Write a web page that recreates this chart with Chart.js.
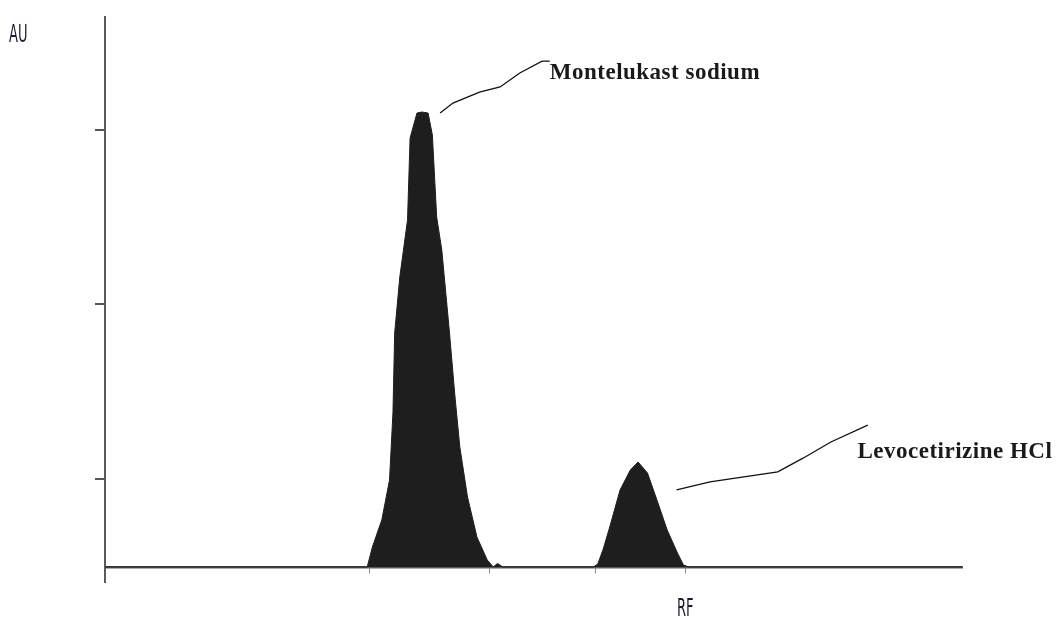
<!DOCTYPE html>
<html>
<head>
<meta charset="utf-8">
<script src="https://cdn.jsdelivr.net/npm/chart.js@4.4.1/dist/chart.umd.min.js"></script>
<style>
  html, body { margin: 0; padding: 0; background: #fff; }
  #wrap { width: 1061px; height: 625px; }
</style>
</head>
<body>
<div id="wrap"><canvas id="myChart"></canvas></div>
<script>
// densitometric scan, RF vs AU
const rfValues = [0, 0.306, 0.312, 0.323, 0.332, 0.336, 0.338, 0.344, 0.353, 0.356, 0.364, 0.370, 0.377,
    0.382, 0.387, 0.393, 0.402, 0.408, 0.414, 0.423, 0.434, 0.446, 0.453, 0.458, 0.464,
    0.570, 0.575, 0.581, 0.589, 0.601, 0.613, 0.622, 0.633, 0.644, 0.656, 0.668, 0.675, 0.681, 1];
const auValues = [0, 0, 0.114, 0.269, 0.497, 0.88, 1.337, 1.657, 1.983, 2.451, 2.594, 2.6, 2.594,
    2.469, 2.0, 1.811, 1.337, 0.994, 0.686, 0.4, 0.171, 0.04, 0, 0.02, 0,
    0, 0.017, 0.097, 0.229, 0.44, 0.554, 0.6, 0.537, 0.383, 0.211, 0.08, 0.011, 0, 0];
const xTickValues = [0.309, 0.449, 0.572, 0.677];
const yTickValues = [0.5, 1.5, 2.5];

// peak labels with their leader lines (in RF / AU units)
const peakLabels = [
    { text: 'Montelukast sodium', at: [0.519, 2.82],
      path: [[0.391, 2.594], [0.406, 2.651], [0.437, 2.714], [0.461, 2.743], [0.484, 2.823], [0.510, 2.891], [0.519, 2.891]] },
    { text: 'Levocetirizine HCl', at: [0.878, 0.655],
      path: [[0.667, 0.44], [0.706, 0.486], [0.785, 0.543], [0.815, 0.623], [0.847, 0.714], [0.890, 0.811]] }
];

const points = rfValues.map((x, i) => ({ x: x, y: auValues[i] }));

const labelsPlugin = {
    id: 'labels',
    afterDraw(chart) {
        const c = chart.ctx;
        const xs = chart.scales.x, ys = chart.scales.y;
        const area = chart.chartArea;
        c.save();
        c.strokeStyle = '#111';
        c.lineWidth = 1.3;
        peakLabels.forEach(p => {
            c.beginPath();
            p.path.forEach((pt, i) => {
                const px = xs.getPixelForValue(pt[0]), py = ys.getPixelForValue(pt[1]);
                if (i === 0) c.moveTo(px, py); else c.lineTo(px, py);
            });
            c.stroke();
            c.fillStyle = '#1a1a1a';
            c.font = 'bold 23px "Liberation Serif", "DejaVu Serif", serif';
            c.letterSpacing = '0.5px';
            c.textBaseline = 'middle';
            c.textAlign = 'left';
            c.fillText(p.text, xs.getPixelForValue(p.at[0]), ys.getPixelForValue(p.at[1]));
        });
        c.letterSpacing = '0px';
        // axis names in narrow font
        c.font = '25px "DejaVu Sans Condensed", "DejaVu Sans", sans-serif';
        c.fillStyle = '#1c1c30';
        c.textBaseline = 'top';
        c.save();
        c.translate(area.left - 96, 23);
        c.scale(0.58, 1);
        c.fillText('AU', 0, 0);
        c.restore();
        c.save();
        c.translate(area.left + 572, 597);
        c.scale(0.58, 1);
        c.fillText('RF', 0, 0);
        c.restore();
        c.restore();
    }
};

const ctx = document.getElementById('myChart').getContext('2d');
const myChart = new Chart(ctx, {
    type: 'line',
    data: {
        datasets: [{
            label: 'AU',
            data: points,
            borderColor: '#1e1e1e',
            backgroundColor: '#1e1e1e',
            borderWidth: 1,
            pointRadius: 0,
            fill: 'origin',
            tension: 0
        }]
    },
    options: {
        responsive: true,
        maintainAspectRatio: false,
        animation: false,
        layout: { padding: { left: 95, right: 99, top: 17, bottom: 43 } },
        plugins: {
            legend: { display: false },
            tooltip: { enabled: false }
        },
        scales: {
            x: {
                type: 'linear',
                position: { y: 0 },
                min: 0,
                max: 1,
                afterBuildTicks: axis => { axis.ticks = xTickValues.map(v => ({ value: v })); },
                ticks: { display: false },
                grid: { drawOnChartArea: false, tickLength: 5, color: '#888', lineWidth: 1 },
                border: { color: '#5a5a5a', width: 2.5 }
            },
            y: {
                min: -0.086,
                max: 3.143,
                afterBuildTicks: axis => { axis.ticks = yTickValues.map(v => ({ value: v })); },
                ticks: { display: false },
                grid: { drawOnChartArea: false, tickLength: 10, color: '#555', lineWidth: 2 },
                border: { color: '#5a5a5a', width: 2 }
            }
        }
    },
    plugins: [labelsPlugin]
});
</script>
</body>
</html>
